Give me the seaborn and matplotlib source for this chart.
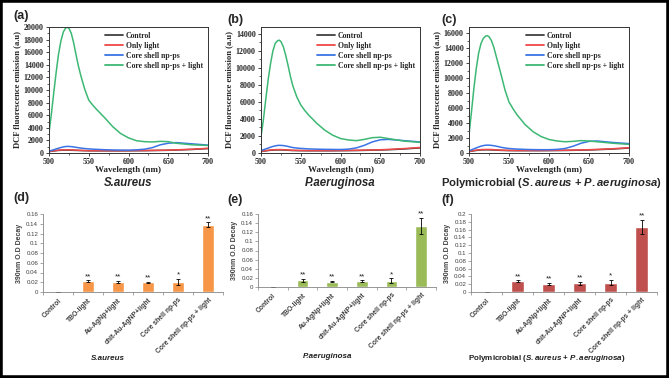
import numpy as np
import pandas as pd
import seaborn as sns
import matplotlib.pyplot as plt
from matplotlib.patches import Rectangle
from matplotlib.ticker import MultipleLocator

# spectra data
wavelength = [500, 503, 506, 509, 512, 515, 518, 521, 523, 525, 528, 531, 534, 537, 540,
              545, 550, 555, 560, 570, 580, 590, 600, 610, 620, 630, 640, 650, 660, 680, 700]
series_names = ["Control", "Only light", "Core shell np-ps", "Core shell np-ps + light"]

a_control = [220, 270, 320, 370, 410, 430, 445, 450, 450, 448, 440, 425, 410, 400, 385,
             365, 350, 345, 340, 340, 340, 340, 350, 360, 370, 390, 410, 430, 470, 560, 700]
a_light = [250, 300, 360, 410, 450, 480, 495, 500, 500, 498, 490, 475, 455, 440, 420,
           395, 380, 375, 370, 370, 370, 370, 380, 390, 400, 420, 440, 460, 500, 600, 750]
a_np = [300, 400, 520, 640, 760, 870, 960, 1030, 1050, 1045, 1010, 960, 900, 840, 780,
        710, 650, 610, 580, 520, 480, 460, 450, 500, 600, 850, 1300, 1550, 1650, 1450, 1250]
a_np_light = [3200, 6200, 9600, 12800, 15700, 17800, 19200, 19850, 19950, 19800, 19000, 17500, 15600, 13800, 12300,
              10100, 8400, 7600, 6900, 5600, 4200, 3100, 2400, 1950, 1800, 1750, 1850, 1800, 1550, 1300, 1200]

b_control = [170, 210, 250, 290, 320, 340, 355, 360, 360, 358, 350, 335, 320, 305, 290,
             280, 270, 265, 260, 260, 260, 260, 270, 280, 290, 310, 330, 350, 380, 470, 600]
b_light = [200, 240, 280, 320, 355, 375, 390, 400, 400, 398, 390, 375, 355, 340, 320,
           310, 300, 295, 290, 290, 290, 290, 300, 310, 320, 340, 360, 380, 420, 520, 650]
b_np = [300, 380, 480, 580, 680, 770, 840, 890, 900, 895, 870, 830, 770, 700, 640,
        580, 540, 510, 480, 450, 430, 420, 410, 450, 600, 900, 1300, 1550, 1600, 1450, 1300]
b_np_light = [1900, 3900, 6300, 8600, 10500, 12000, 12900, 13200, 13250, 13100, 12500, 11500, 10300, 9000, 7900,
              6600, 5650, 5000, 4450, 3500, 2700, 2100, 1700, 1530, 1450, 1600, 1800, 1850, 1700, 1400, 1250]

c_control = [190, 240, 290, 340, 380, 405, 418, 420, 420, 418, 410, 395, 380, 365, 350,
             335, 320, 315, 310, 310, 310, 310, 320, 330, 340, 360, 380, 400, 440, 530, 660]
c_light = [220, 270, 330, 380, 420, 450, 465, 470, 470, 468, 460, 445, 425, 405, 380,
           360, 350, 345, 340, 340, 340, 340, 350, 360, 370, 390, 410, 440, 480, 570, 700]
c_np = [300, 420, 550, 680, 800, 910, 990, 1040, 1050, 1045, 1015, 970, 910, 840, 760,
        670, 600, 560, 520, 480, 450, 440, 440, 480, 600, 900, 1300, 1550, 1600, 1400, 1250]
c_np_light = [2400, 5400, 8500, 11200, 13300, 14600, 15300, 15600, 15650, 15500, 15000, 14100, 12900, 11700, 10500,
              8400, 6800, 5900, 5100, 3800, 2850, 2200, 1800, 1600, 1500, 1550, 1650, 1600, 1500, 1300, 1150]

# bar data
treatments = ["Control", "TBO-light", "Au-AgNp+light", "chit-Au-AgNP+light",
              "Core shell np-ps", "Core shell np-ps + light"]
d_vals = [0, 0.022, 0.020, 0.020, 0.021, 0.138]
d_err = [0, 0.002, 0.002, 0.0015, 0.006, 0.005]
e_vals = [0, 0.015, 0.012, 0.013, 0.014, 0.134]
e_err = [0, 0.003, 0.002, 0.0015, 0.005, 0.018]
f_vals = [0, 0.028, 0.021, 0.022, 0.024, 0.166]
f_err = [0, 0.002, 0.003, 0.003, 0.007, 0.018]
stars = ["", "**", "**", "**", "*", "**"]

sns.set_style("white")
plt.rcParams["font.family"] = ["Liberation Sans", "DejaVu Sans"]
plt.rcParams["mathtext.fontset"] = "custom"
plt.rcParams["mathtext.it"] = "Liberation Sans:italic:bold"
plt.rcParams["mathtext.rm"] = "Liberation Sans:bold"

line_colors = ["#404040", "#F04848", "#3A74E6", "#3DB874"]

fig = plt.figure(figsize=(6.69, 3.78), dpi=100)
W, H = 669, 378


def px_axes(l, t, r, b):
    return fig.add_axes([l / W, 1 - b / H, (r - l) / W, (b - t) / H])


serif = "Liberation Serif"

spectra = [
    ((49, 27, 208, 153), [a_control, a_light, a_np, a_np_light], 20000, 2000, "(a)", (13, 16)),
    ((261, 27, 420, 153), [b_control, b_light, b_np, b_np_light], 14800, 2000, "(b)", (227, 20)),
    ((469, 27, 629, 153), [c_control, c_light, c_np, c_np_light], 16800, 2000, "(c)", (441, 20)),
]

for box, curves, ytop, ystep, lab, lpos in spectra:
    ax = px_axes(*box)
    rows = []
    for name, vals in zip(series_names, curves):
        for w, v in zip(wavelength, vals):
            rows.append({"Wavelength": w, "Emission": v, "Series": name})
    df = pd.DataFrame(rows)
    sns.lineplot(data=df, x="Wavelength", y="Emission", hue="Series", hue_order=series_names,
                 palette=line_colors, linewidth=1.1, ax=ax)
    ax.set_xlim(500, 700)
    ax.set_ylim(0, ytop)
    ax.xaxis.set_major_locator(MultipleLocator(50))
    ax.xaxis.set_minor_locator(MultipleLocator(25))
    ax.yaxis.set_major_locator(MultipleLocator(ystep))
    ax.yaxis.set_minor_locator(MultipleLocator(ystep / 2))
    ax.tick_params(which="major", direction="out", length=2.5, width=0.6, pad=1.2,
                   left=True, bottom=True)
    ax.tick_params(which="minor", direction="out", length=1.5, width=0.5, left=True, bottom=True)
    for t in ax.get_xticklabels() + ax.get_yticklabels():
        t.set_fontfamily(serif)
        t.set_fontweight("bold")
        t.set_fontsize(5.8)
    for s in ax.spines.values():
        s.set_linewidth(0.7)
        s.set_color("#333333")
    ax.set_xlabel("Wavelength (nm)", fontfamily=serif, fontweight="bold", fontsize=6.5, labelpad=0)
    ax.set_ylabel("DCF fluorescence emission (a.u)", fontfamily=serif, fontweight="bold",
                  fontsize=6.2, labelpad=2)
    leg = ax.legend(loc="upper right", frameon=False, handlelength=2.3, handletextpad=0.4,
                    labelspacing=0.25, borderaxespad=0.25,
                    prop={"family": serif, "weight": "bold", "size": 5.6})
    for h in leg.get_lines():
        h.set_linewidth(1.3)
    fig.text(lpos[0] / W, 1 - lpos[1] / H, lab, fontsize=9, fontweight="bold", va="center")

title_y = 1 - 183 / H
fig.text(128 / W, title_y, "S.aureus", fontsize=8.3, fontweight="bold", fontstyle="italic",
         ha="center", va="center")
fig.text(340 / W, title_y, "P.aeruginosa", fontsize=8.3, fontweight="bold", fontstyle="italic",
         ha="center", va="center")
fig.text(551 / W, title_y, r"Polymicrobial ($\mathit{S.aureus}$ + $\mathit{P.aeruginosa}$)",
         fontsize=8.1, fontweight="bold", ha="center", va="center")

bars = [
    ((43, 214, 223, 292), d_vals, d_err, "#F79646", 0.16, 0.02, "(d)", (13, 198),
     "S.aureus", (108, 358)),
    ((258, 214, 436, 287), e_vals, e_err, "#9BBB59", 0.16, 0.02, "(e)", (227, 200),
     "P.aeruginosa", (328, 357)),
    ((471, 214, 657, 292), f_vals, f_err, "#C0504D", 0.2, 0.02, "(f)", (441, 200),
     r"Polymicrobial ($\mathit{S.aureus}$ + $\mathit{P.aeruginosa}$)", (547, 359)),
]

for box, vals, errs, col, ytop, ystep, lab, lpos, xlab, xpos in bars:
    ax = px_axes(*box)
    sns.barplot(x=treatments, y=vals, color=col, width=0.4, errorbar=None, saturation=1, ax=ax)
    ax.errorbar(range(len(vals)), vals, yerr=errs, fmt="none", ecolor="black",
                elinewidth=0.6, capsize=1.5, capthick=0.6)
    for i, (v, e, s) in enumerate(zip(vals, errs, stars)):
        if s:
            ax.text(i, v + e + ytop * 0.005, s, ha="center", va="bottom", fontsize=5.8,
                    color="#202020")
    ax.set_xlim(-0.5, len(vals) - 0.5)
    ax.set_ylim(0, ytop)
    ax.yaxis.set_major_locator(MultipleLocator(ystep))
    ax.set_yticks(ax.get_yticks())
    ax.set_yticklabels([("%.2f" % t).rstrip("0").rstrip(".") if t != 0 else "0"
                        for t in ax.get_yticks()])
    ax.set_ylim(0, ytop)
    ax.set_xticks(np.arange(-0.5, len(vals)), minor=True)
    ax.tick_params(axis="x", which="major", length=0, pad=3.5)
    ax.tick_params(axis="x", which="minor", length=2.5, width=0.5, color="#868686", direction="out",
                   bottom=True)
    ax.tick_params(axis="y", length=2, width=0.5, color="#868686", direction="out", left=True,
                   pad=1.5, labelsize=4.4, labelcolor="#404040")
    ax.set_xticklabels(treatments, rotation=45, ha="right", rotation_mode="anchor",
                       fontsize=4.9, fontweight="bold", color="#404040")
    for sp in ["top", "right"]:
        ax.spines[sp].set_visible(False)
    for sp in ["left", "bottom"]:
        ax.spines[sp].set_color("#868686")
        ax.spines[sp].set_linewidth(0.6)
    ax.set_ylabel("390nm O.D Decay", fontsize=5, fontweight="bold", color="#404040", labelpad=2.5)
    ax.set_xlabel("")
    fig.text(lpos[0] / W, 1 - lpos[1] / H, lab, fontsize=9, fontweight="bold", va="center")
    fig.text(xpos[0] / W, 1 - xpos[1] / H, xlab, fontsize=5.8, fontweight="bold",
             fontstyle="italic" if "Poly" not in xlab else "normal",
             ha="center", va="center", color="#202020")

fig.add_artist(Rectangle((0, 0), 1, 1, transform=fig.transFigure, fill=False,
                         linewidth=4, edgecolor="black"))

fig.savefig("out.png", dpi=100)
